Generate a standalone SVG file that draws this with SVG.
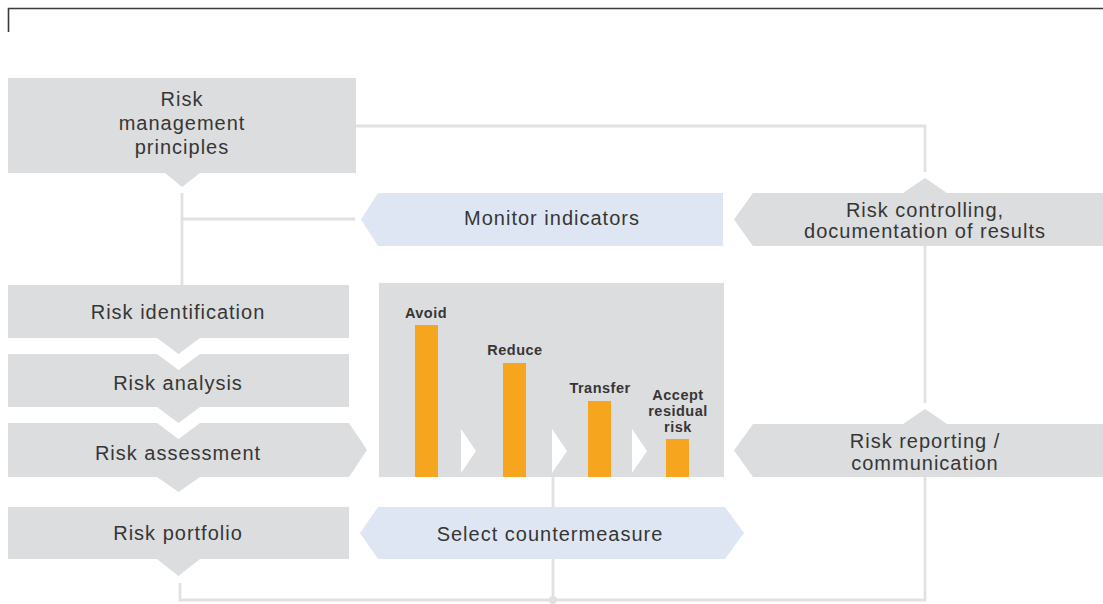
<svg xmlns="http://www.w3.org/2000/svg" width="1103" height="604" viewBox="0 0 1103 604">
<style>
.gray{fill:#dcdddf}
.blue{fill:#dfe6f3}
.bar{fill:#f6a51f}
.conn{fill:none;stroke:#e1e1e1;stroke-width:2.8}
.t{font-family:"Liberation Sans",Arial,sans-serif;font-size:20px;letter-spacing:1px;fill:#363636;text-anchor:middle}
.b{font-family:"Liberation Sans",Arial,sans-serif;font-size:14.5px;font-weight:bold;letter-spacing:0.5px;fill:#363636;text-anchor:middle}
</style>
<rect width="1103" height="604" fill="#ffffff"/>
<path d="M8.5 32 V8.5 H1103" fill="none" stroke="#3a3a3a" stroke-width="1.6"/>

<g id="connectors">
<path class="conn" d="M356 126 H925 V172"/>
<path class="conn" d="M925 246 V403"/>
<path class="conn" d="M925 477 V600 H180 V583"/>
<path class="conn" d="M182 193 V285"/>
<path class="conn" d="M182 219 H355"/>
<path class="conn" d="M553 477 V600"/>
<circle cx="553" cy="600" r="4" fill="#e1e1e1"/>
</g>

<g id="principles">
<polygon class="gray" points="8,78 356,78 356,173 200,173 182,187 165,173 8,173"/>
<text class="t" x="182" y="106">Risk</text>
<text class="t" x="182" y="130">management</text>
<text class="t" x="182" y="154">principles</text>
</g>

<g id="monitor">
<polygon class="blue" points="361,219.5 378,193 723,193 723,246 378,246"/>
<text class="t" x="552" y="225">Monitor indicators</text>
</g>

<g id="controlling">
<polygon class="gray" points="734,219.5 753,193 903,193 925,178 947,193 1103,193 1103,246 753,246"/>
<text class="t" x="925" y="217">Risk controlling,</text>
<text class="t" x="925" y="238">documentation of results</text>
</g>

<g id="identification">
<polygon class="gray" points="8,285 349,285 349,338 200,338 178.5,354 157,338 8,338"/>
<text class="t" x="178" y="319">Risk identification</text>
</g>

<g id="analysis">
<polygon class="gray" points="8,354 157,354 178.5,370 200,354 349,354 349,407 200,407 178.5,423 157,407 8,407"/>
<text class="t" x="178" y="390">Risk analysis</text>
</g>

<g id="assessment">
<polygon class="gray" points="8,423 157,423 178.5,439 200,423 349,423 367,450 349,477 200,477 178.5,492 157,477 8,477"/>
<text class="t" x="178" y="460">Risk assessment</text>
</g>

<g id="portfolio">
<polygon class="gray" points="8,507 349,507 349,559 200,559 178.5,576 157,559 8,559"/>
<text class="t" x="178" y="540">Risk portfolio</text>
</g>

<g id="strategies">
<rect class="gray" x="379" y="283" width="345" height="194"/>
<rect class="bar" x="415" y="325" width="23" height="152"/>
<rect class="bar" x="503" y="363" width="23" height="114"/>
<rect class="bar" x="588" y="401" width="23" height="76"/>
<rect class="bar" x="666" y="439" width="23" height="38"/>
<polygon points="461,429 476,451 461,473" fill="#ffffff"/>
<polygon points="552,429 567,451 552,473" fill="#ffffff"/>
<polygon points="632,429 647,451 632,473" fill="#ffffff"/>
<text class="b" x="426" y="318">Avoid</text>
<text class="b" x="515" y="355">Reduce</text>
<text class="b" x="600" y="393">Transfer</text>
<text class="b" x="678" y="400">Accept</text>
<text class="b" x="678" y="416">residual</text>
<text class="b" x="678" y="432">risk</text>
</g>

<g id="reporting">
<polygon class="gray" points="734,450.5 753,424 903,424 925,409 947,424 1103,424 1103,477 753,477"/>
<text class="t" x="925" y="448">Risk reporting /</text>
<text class="t" x="925" y="470">communication</text>
</g>

<g id="countermeasure">
<polygon class="blue" points="360,533 378,507 725,507 744,533 725,559 378,559"/>
<text class="t" x="550" y="541">Select countermeasure</text>
</g>
</svg>
